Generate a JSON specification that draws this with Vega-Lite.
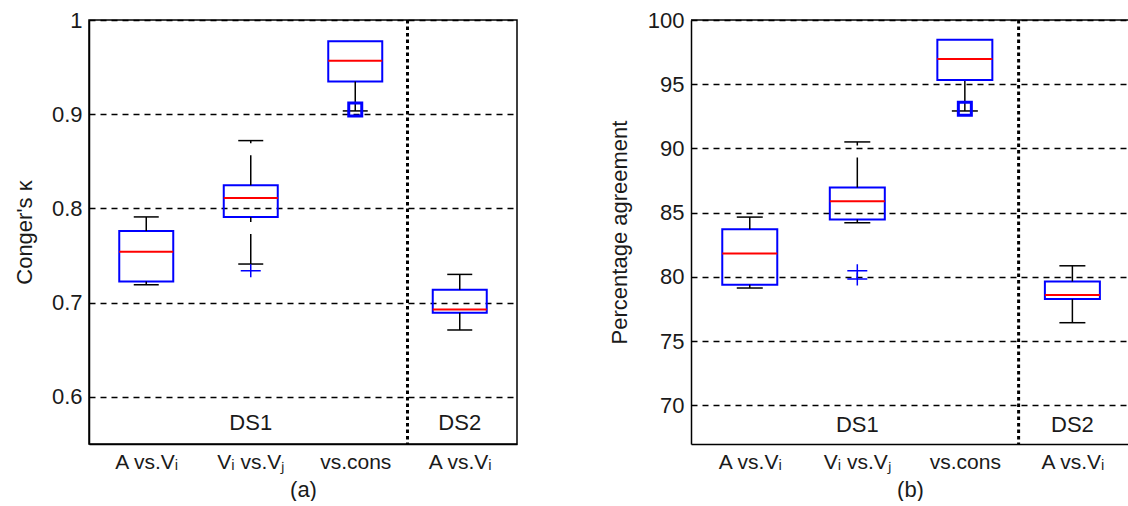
{
  "$schema": "https://vega.github.io/schema/vega-lite/v6.json",
  "padding": {"left": 12, "top": 8, "right": 0, "bottom": 0},
  "spacing": 90,
  "config": {
    "font": "Liberation Sans",
    "view": {"stroke": "black", "strokeWidth": 1.5},
    "axis": {
      "labelFontSize": 21, "titleFontSize": 22, "titleFontWeight": "normal",
      "labelColor": "#1a1a1a", "titleColor": "#1a1a1a",
      "domainColor": "black", "domainWidth": 1.5, "ticks": false, "grid": false
    },
    "axisY": {"labelFontSize": 22}
  },
  "datasets": {
    "a_box": [
      {"pos": 1, "q1": 0.7225, "med": 0.754, "q3": 0.776},
      {"pos": 2, "q1": 0.7908, "med": 0.8112, "q3": 0.8247},
      {"pos": 3, "q1": 0.9346, "med": 0.9568, "q3": 0.9774},
      {"pos": 4, "q1": 0.6893, "med": 0.6928, "q3": 0.7137}
    ],
    "a_whisk": [
      {"pos": 1, "from": 0.719, "to": 0.7225},
      {"pos": 1, "from": 0.776, "to": 0.791},
      {"pos": 2, "from": 0.741, "to": 0.7908},
      {"pos": 2, "from": 0.8247, "to": 0.872},
      {"pos": 3, "from": 0.9035, "to": 0.9346},
      {"pos": 4, "from": 0.671, "to": 0.6893},
      {"pos": 4, "from": 0.7137, "to": 0.730}
    ],
    "a_cap": [
      {"pos": 1, "v": 0.719}, {"pos": 1, "v": 0.791},
      {"pos": 2, "v": 0.741}, {"pos": 2, "v": 0.872},
      {"pos": 3, "v": 0.9035},
      {"pos": 4, "v": 0.671}, {"pos": 4, "v": 0.730}
    ],
    "a_out": [
      {"pos": 2, "v": 0.734, "kind": "plus"},
      {"pos": 3, "v": 0.905, "kind": "square"}
    ],
    "a_text": [
      {"pos": 2, "v": 0.572, "label": "DS1"},
      {"pos": 4, "v": 0.572, "label": "DS2"}
    ],
    "a_sep": [{"pos": 3.5}],
    "b_box": [
      {"pos": 1, "q1": 79.4, "med": 81.83, "q3": 83.72},
      {"pos": 2, "q1": 84.47, "med": 85.9, "q3": 86.96},
      {"pos": 3, "q1": 95.33, "med": 96.97, "q3": 98.47},
      {"pos": 4, "q1": 78.28, "med": 78.6, "q3": 79.65}
    ],
    "b_whisk": [
      {"pos": 1, "from": 79.14, "to": 79.4},
      {"pos": 1, "from": 83.72, "to": 84.66},
      {"pos": 2, "from": 84.22, "to": 84.47},
      {"pos": 2, "from": 86.96, "to": 90.51},
      {"pos": 3, "from": 92.92, "to": 95.33},
      {"pos": 4, "from": 76.44, "to": 78.28},
      {"pos": 4, "from": 79.65, "to": 80.87}
    ],
    "b_cap": [
      {"pos": 1, "v": 79.14}, {"pos": 1, "v": 84.66},
      {"pos": 2, "v": 84.22}, {"pos": 2, "v": 90.51},
      {"pos": 3, "v": 92.92},
      {"pos": 4, "v": 76.44}, {"pos": 4, "v": 80.87}
    ],
    "b_out": [
      {"pos": 2, "v": 80.48, "kind": "plus"},
      {"pos": 2, "v": 79.84, "kind": "plus"},
      {"pos": 3, "v": 93.1, "kind": "square"}
    ],
    "b_text": [
      {"pos": 2, "v": 68.5, "label": "DS1"},
      {"pos": 4, "v": 68.5, "label": "DS2"}
    ],
    "b_sep": [{"pos": 3.5}],
    "b_top": [{"v": 100}]
  },
  "hconcat": [
    {
      "width": 428,
      "height": 424,
      "layer": [
        {
          "data": {"name": "a_box"},
          "mark": {"type": "bar", "size": 54, "fill": "white", "fillOpacity": 0, "stroke": "#0000ff", "strokeWidth": 2},
          "encoding": {
            "x": {"field": "pos", "type": "quantitative",
                  "scale": {"domain": [0.5, 4.5], "nice": false, "zero": false},
                  "axis": {"values": [1, 2, 3, 4], "labelExpr": "datum.value == 1 ? 'A vs.Vᵢ' : datum.value == 2 ? 'Vᵢ vs.Vⱼ' : datum.value == 3 ? 'vs.cons' : 'A vs.Vᵢ'", "title": "(a)", "labelPadding": 7, "titlePadding": 7, "grid": false, "labelFlush": false}},
            "y": {"field": "q1", "type": "quantitative",
                  "scale": {"domain": [0.55, 1], "nice": false, "zero": false},
                  "axis": {"values": [0.6, 0.7, 0.8, 0.9, 1], "format": "~g", "grid": true, "gridDash": [6, 5], "gridColor": "black", "gridOpacity": 1, "gridWidth": 1.4, "title": "Conger's κ", "labelPadding": 7, "titlePadding": 15}},
            "y2": {"field": "q3"}
          }
        },
        {
          "data": {"name": "a_whisk"},
          "mark": {"type": "rule", "color": "black", "strokeWidth": 1.5, "strokeDash": [30, 12]},
          "encoding": {
            "x": {"field": "pos", "type": "quantitative"},
            "y": {"field": "from", "type": "quantitative"},
            "y2": {"field": "to"}
          }
        },
        {
          "data": {"name": "a_cap"},
          "mark": {"type": "tick", "orient": "horizontal", "size": 25, "thickness": 1.5, "color": "black", "opacity": 1},
          "encoding": {
            "x": {"field": "pos", "type": "quantitative"},
            "y": {"field": "v", "type": "quantitative"}
          }
        },
        {
          "data": {"name": "a_box"},
          "mark": {"type": "tick", "orient": "horizontal", "size": 54, "thickness": 2, "color": "#ff0000", "opacity": 1},
          "encoding": {
            "x": {"field": "pos", "type": "quantitative"},
            "y": {"field": "med", "type": "quantitative"}
          }
        },
        {
          "data": {"name": "a_out"},
          "transform": [{"filter": "datum.kind == 'plus'"}],
          "mark": {"type": "point", "shape": "M-1,0L1,0M0,-0.65L0,0.65", "size": 400, "filled": false, "stroke": "#0000ff", "strokeWidth": 1.5, "opacity": 1},
          "encoding": {
            "x": {"field": "pos", "type": "quantitative"},
            "y": {"field": "v", "type": "quantitative"}
          }
        },
        {
          "data": {"name": "a_out"},
          "transform": [{"filter": "datum.kind == 'square'"}],
          "mark": {"type": "point", "shape": "square", "size": 169, "filled": false, "stroke": "#0000ff", "strokeWidth": 3, "opacity": 1},
          "encoding": {
            "x": {"field": "pos", "type": "quantitative"},
            "y": {"field": "v", "type": "quantitative"}
          }
        },
        {
          "data": {"name": "a_text"},
          "mark": {"type": "text", "fontSize": 22, "color": "#1a1a1a", "baseline": "middle", "align": "center"},
          "encoding": {
            "x": {"field": "pos", "type": "quantitative"},
            "y": {"field": "v", "type": "quantitative"},
            "text": {"field": "label"}
          }
        },
        {
          "data": {"name": "a_sep"},
          "mark": {"type": "rule", "color": "black", "strokeWidth": 3, "strokeDash": [3.5, 3]},
          "encoding": {"x": {"field": "pos", "type": "quantitative"}}
        }
      ]
    },
    {
      "width": 438,
      "height": 424,
      "view": {"stroke": null},
      "layer": [
        {
          "data": {"name": "b_box"},
          "mark": {"type": "bar", "size": 55, "fill": "white", "fillOpacity": 0, "stroke": "#0000ff", "strokeWidth": 2},
          "encoding": {
            "x": {"field": "pos", "type": "quantitative",
                  "scale": {"domain": [0.5, 4.48], "nice": false, "zero": false},
                  "axis": {"values": [1, 2, 3, 4], "labelExpr": "datum.value == 1 ? 'A vs.Vᵢ' : datum.value == 2 ? 'Vᵢ vs.Vⱼ' : datum.value == 3 ? 'vs.cons' : 'A vs.Vᵢ'", "title": "(b)", "labelPadding": 7, "titlePadding": 7, "grid": false, "labelFlush": false}},
            "y": {"field": "q1", "type": "quantitative",
                  "scale": {"domain": [67, 100], "nice": false, "zero": false},
                  "axis": {"values": [70, 75, 80, 85, 90, 95, 100], "grid": true, "gridDash": [6, 5], "gridColor": "black", "gridOpacity": 1, "gridWidth": 1.4, "title": "Percentage agreement", "labelPadding": 7, "titlePadding": 16}},
            "y2": {"field": "q3"}
          }
        },
        {
          "data": {"name": "b_top"},
          "mark": {"type": "rule", "color": "black", "strokeWidth": 1.5},
          "encoding": {"y": {"field": "v", "type": "quantitative"}}
        },
        {
          "data": {"name": "b_whisk"},
          "mark": {"type": "rule", "color": "black", "strokeWidth": 1.5, "strokeDash": [30, 12]},
          "encoding": {
            "x": {"field": "pos", "type": "quantitative"},
            "y": {"field": "from", "type": "quantitative"},
            "y2": {"field": "to"}
          }
        },
        {
          "data": {"name": "b_cap"},
          "mark": {"type": "tick", "orient": "horizontal", "size": 26, "thickness": 1.5, "color": "black", "opacity": 1},
          "encoding": {
            "x": {"field": "pos", "type": "quantitative"},
            "y": {"field": "v", "type": "quantitative"}
          }
        },
        {
          "data": {"name": "b_box"},
          "mark": {"type": "tick", "orient": "horizontal", "size": 55, "thickness": 2, "color": "#ff0000", "opacity": 1},
          "encoding": {
            "x": {"field": "pos", "type": "quantitative"},
            "y": {"field": "med", "type": "quantitative"}
          }
        },
        {
          "data": {"name": "b_out"},
          "transform": [{"filter": "datum.kind == 'plus'"}],
          "mark": {"type": "point", "shape": "M-1,0L1,0M0,-0.65L0,0.65", "size": 400, "filled": false, "stroke": "#0000ff", "strokeWidth": 1.5, "opacity": 1},
          "encoding": {
            "x": {"field": "pos", "type": "quantitative"},
            "y": {"field": "v", "type": "quantitative"}
          }
        },
        {
          "data": {"name": "b_out"},
          "transform": [{"filter": "datum.kind == 'square'"}],
          "mark": {"type": "point", "shape": "square", "size": 169, "filled": false, "stroke": "#0000ff", "strokeWidth": 3, "opacity": 1},
          "encoding": {
            "x": {"field": "pos", "type": "quantitative"},
            "y": {"field": "v", "type": "quantitative"}
          }
        },
        {
          "data": {"name": "b_text"},
          "mark": {"type": "text", "fontSize": 22, "color": "#1a1a1a", "baseline": "middle", "align": "center"},
          "encoding": {
            "x": {"field": "pos", "type": "quantitative"},
            "y": {"field": "v", "type": "quantitative"},
            "text": {"field": "label"}
          }
        },
        {
          "data": {"name": "b_sep"},
          "mark": {"type": "rule", "color": "black", "strokeWidth": 3, "strokeDash": [3.5, 3]},
          "encoding": {"x": {"field": "pos", "type": "quantitative"}}
        }
      ]
    }
  ]
}
